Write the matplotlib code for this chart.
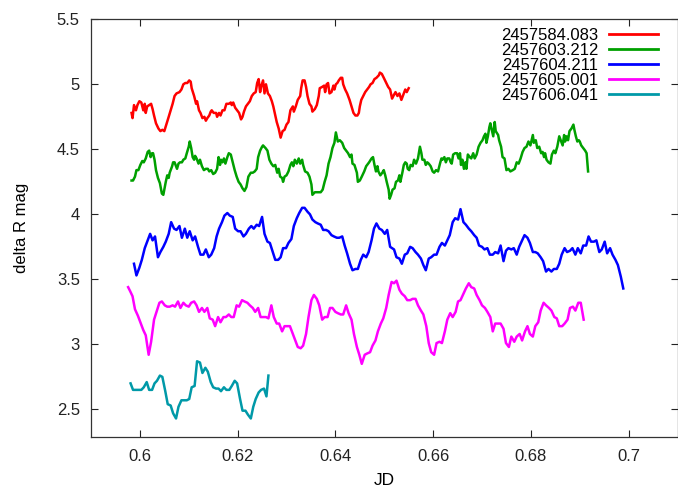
import matplotlib
matplotlib.use("Agg")
import matplotlib.pyplot as plt
from matplotlib.ticker import FormatStrFormatter

plt.rcParams['font.family'] = ['Liberation Sans', 'DejaVu Sans']

## light curves (JD fraction, delta R mag)

labels = ["2457584.083", "2457603.212", "2457604.211", "2457605.001", "2457606.041"]
colors = ["#ff0000", "#00a000", "#0000ff", "#ff00ff", "#0099a8"]

jd_584 = [0.5983, 0.5985, 0.5988, 0.5992, 0.5995, 0.5999, 0.6003, 0.6007, 0.6010, 0.6012,
          0.6015, 0.6019, 0.6023, 0.6026, 0.6029, 0.6033, 0.6038, 0.6042, 0.6046, 0.6050,
          0.6055, 0.6059, 0.6063, 0.6067, 0.6071, 0.6075, 0.6081, 0.6085, 0.6089, 0.6093,
          0.6097, 0.6101, 0.6104, 0.6106, 0.6111, 0.6115, 0.6117, 0.6121, 0.6124, 0.6128,
          0.6132, 0.6135, 0.6138, 0.6142, 0.6145, 0.6147, 0.6151, 0.6156, 0.6158, 0.6162,
          0.6165, 0.6169, 0.6173, 0.6177, 0.6182, 0.6186, 0.6188, 0.6191, 0.6195, 0.6199,
          0.6203, 0.6207, 0.6210, 0.6213, 0.6217, 0.6221, 0.6225, 0.6229, 0.6233, 0.6237,
          0.6240, 0.6243, 0.6246, 0.6248, 0.6252, 0.6255, 0.6258, 0.6262, 0.6266, 0.6270,
          0.6273, 0.6277, 0.6280, 0.6284, 0.6288, 0.6292, 0.6296, 0.6300, 0.6304, 0.6308,
          0.6313, 0.6315, 0.6319, 0.6323, 0.6328, 0.6330, 0.6333, 0.6337, 0.6340, 0.6343,
          0.6347, 0.6351, 0.6353, 0.6358, 0.6362, 0.6366, 0.6368, 0.6373, 0.6377, 0.6379,
          0.6382, 0.6385, 0.6388, 0.6392, 0.6396, 0.6398, 0.6401, 0.6404, 0.6407, 0.6411,
          0.6414, 0.6416, 0.6420, 0.6424, 0.6429, 0.6433, 0.6437, 0.6441, 0.6445, 0.6448,
          0.6450, 0.6453, 0.6457, 0.6461, 0.6465, 0.6469, 0.6472, 0.6476, 0.6480, 0.6484,
          0.6489, 0.6491, 0.6495, 0.6499, 0.6504, 0.6508, 0.6512, 0.6516, 0.6520, 0.6523,
          0.6527, 0.6531, 0.6535, 0.6539, 0.6543, 0.6546, 0.6550]
mag_584 = [4.78, 4.74, 4.84, 4.80, 4.84, 4.87, 4.86, 4.80, 4.85, 4.78,
           4.83, 4.84, 4.85, 4.81, 4.76, 4.70, 4.66, 4.64, 4.65, 4.64,
           4.70, 4.75, 4.80, 4.85, 4.91, 4.93, 4.94, 4.96, 5.00, 5.01,
           5.01, 5.03, 5.02, 4.97, 4.91, 4.85, 4.87, 4.80, 4.78, 4.74,
           4.75, 4.72, 4.74, 4.76, 4.79, 4.80, 4.78, 4.78, 4.75, 4.78,
           4.76, 4.80, 4.80, 4.85, 4.85, 4.86, 4.84, 4.86, 4.82, 4.80,
           4.78, 4.73, 4.75, 4.79, 4.83, 4.85, 4.87, 4.91, 4.93, 4.94,
           5.01, 5.04, 4.94, 4.98, 5.03, 4.93, 5.00, 4.93, 4.91, 4.87,
           4.83, 4.76, 4.71, 4.66, 4.59, 4.64, 4.65, 4.69, 4.71, 4.80,
           4.83, 4.79, 4.83, 4.88, 4.91, 4.97, 5.03, 5.03, 4.98, 4.91,
           4.85, 4.83, 4.79, 4.81, 4.84, 4.91, 4.97, 4.98, 4.99, 4.94,
           5.00, 5.01, 4.93, 4.94, 4.99, 4.96, 5.00, 5.01, 5.03, 5.05,
           5.05, 5.00, 4.96, 4.93, 4.88, 4.83, 4.78, 4.76, 4.76, 4.78,
           4.83, 4.88, 4.91, 4.94, 4.96, 4.98, 5.00, 5.01, 5.04, 5.05,
           5.07, 5.09, 5.08, 5.05, 5.01, 4.98, 4.96, 4.89, 4.92, 4.94,
           4.91, 4.93, 4.88, 4.92, 4.96, 4.94, 4.97]

jd_603 = [0.5983, 0.5986, 0.5990, 0.5993, 0.5997, 0.6001, 0.6005, 0.6008, 0.6012, 0.6016,
          0.6019, 0.6022, 0.6025, 0.6027, 0.6030, 0.6033, 0.6037, 0.6041, 0.6045, 0.6048,
          0.6050, 0.6053, 0.6056, 0.6059, 0.6061, 0.6066, 0.6068, 0.6071, 0.6074, 0.6076,
          0.6079, 0.6082, 0.6086, 0.6089, 0.6093, 0.6096, 0.6100, 0.6102, 0.6105, 0.6108,
          0.6111, 0.6113, 0.6116, 0.6120, 0.6123, 0.6127, 0.6131, 0.6135, 0.6139, 0.6142,
          0.6146, 0.6150, 0.6154, 0.6158, 0.6161, 0.6164, 0.6166, 0.6169, 0.6172, 0.6175,
          0.6179, 0.6182, 0.6186, 0.6190, 0.6194, 0.6198, 0.6202, 0.6206, 0.6210, 0.6214,
          0.6218, 0.6222, 0.6227, 0.6231, 0.6235, 0.6239, 0.6242, 0.6246, 0.6250, 0.6252,
          0.6257, 0.6261, 0.6265, 0.6269, 0.6273, 0.6277, 0.6281, 0.6284, 0.6287, 0.6291,
          0.6293, 0.6296, 0.6300, 0.6304, 0.6308, 0.6311, 0.6314, 0.6317, 0.6321, 0.6325,
          0.6328, 0.6332, 0.6334, 0.6338, 0.6343, 0.6347, 0.6351, 0.6353, 0.6358, 0.6362,
          0.6366, 0.6370, 0.6374, 0.6378, 0.6382, 0.6386, 0.6390, 0.6394, 0.6398, 0.6401,
          0.6405, 0.6409, 0.6414, 0.6418, 0.6422, 0.6426, 0.6430, 0.6433, 0.6435, 0.6439,
          0.6444, 0.6446, 0.6450, 0.6454, 0.6459, 0.6463, 0.6467, 0.6469,
          0.6474, 0.6477, 0.6480, 0.6483, 0.6486, 0.6488, 0.6492, 0.6496, 0.6499, 0.6502,
          0.6505, 0.6509, 0.6511, 0.6514, 0.6517, 0.6521, 0.6524, 0.6528, 0.6531, 0.6533,
          0.6537, 0.6540, 0.6543, 0.6546, 0.6548, 0.6551, 0.6554, 0.6558, 0.6561, 0.6565,
          0.6569, 0.6573, 0.6576, 0.6578, 0.6582, 0.6585, 0.6588, 0.6591, 0.6595, 0.6599,
          0.6602, 0.6606, 0.6610, 0.6614, 0.6617, 0.6619, 0.6623, 0.6626, 0.6629, 0.6633,
          0.6636, 0.6638, 0.6641, 0.6645, 0.6649, 0.6652, 0.6655, 0.6657, 0.6660, 0.6663,
          0.6666, 0.6668, 0.6671, 0.6675, 0.6678, 0.6682, 0.6685, 0.6689, 0.6693, 0.6697,
          0.6701, 0.6704, 0.6707, 0.6709, 0.6712, 0.6715, 0.6717, 0.6720, 0.6723, 0.6726,
          0.6728, 0.6733, 0.6735, 0.6739, 0.6742, 0.6746, 0.6750, 0.6754, 0.6758, 0.6763,
          0.6767, 0.6771, 0.6775, 0.6779, 0.6783, 0.6787, 0.6791, 0.6795, 0.6799, 0.6804,
          0.6806, 0.6810, 0.6813, 0.6817, 0.6821, 0.6824, 0.6827, 0.6829, 0.6832, 0.6836,
          0.6840, 0.6843, 0.6847, 0.6850, 0.6854, 0.6858, 0.6862, 0.6865, 0.6868, 0.6870,
          0.6873, 0.6876, 0.6879, 0.6883, 0.6887, 0.6889, 0.6892, 0.6895, 0.6898, 0.6900,
          0.6903, 0.6907, 0.6911, 0.6914, 0.6917]
mag_603 = [4.26, 4.26, 4.29, 4.34, 4.34, 4.38, 4.41, 4.40, 4.43, 4.48,
           4.49, 4.44, 4.47, 4.47, 4.42, 4.34, 4.28, 4.24, 4.16, 4.15,
           4.19, 4.25, 4.30, 4.28, 4.32, 4.37, 4.40, 4.40, 4.37, 4.35,
           4.39, 4.40, 4.40, 4.42, 4.43, 4.47, 4.52, 4.56, 4.51, 4.44,
           4.42, 4.45, 4.43, 4.39, 4.42, 4.37, 4.34, 4.35, 4.35, 4.33,
           4.34, 4.31, 4.32, 4.35, 4.44, 4.38, 4.42, 4.40, 4.43, 4.39,
           4.44, 4.47, 4.46, 4.40, 4.34, 4.29, 4.25, 4.23, 4.20, 4.18,
           4.21, 4.29, 4.32, 4.32, 4.33, 4.35, 4.44, 4.49, 4.52, 4.53,
           4.51, 4.49, 4.42, 4.39, 4.37, 4.38, 4.32, 4.35, 4.29, 4.28,
           4.25, 4.29, 4.30, 4.33, 4.38, 4.40, 4.37, 4.42, 4.39, 4.43,
           4.39, 4.42, 4.38, 4.33, 4.32, 4.29, 4.23, 4.15, 4.17, 4.17,
           4.17, 4.17, 4.19, 4.25, 4.30, 4.39, 4.44, 4.51, 4.55, 4.63,
           4.56, 4.57, 4.55, 4.51, 4.49, 4.47, 4.44, 4.46, 4.39, 4.38,
           4.32, 4.25, 4.26, 4.29, 4.33, 4.37, 4.39, 4.40,
           4.43, 4.44, 4.38, 4.33, 4.37, 4.33, 4.30, 4.32, 4.34, 4.30,
           4.25, 4.19, 4.12, 4.15, 4.19, 4.20, 4.25, 4.26, 4.30, 4.25,
           4.32, 4.38, 4.40, 4.39, 4.35, 4.34, 4.38, 4.37, 4.42, 4.39,
           4.43, 4.52, 4.47, 4.42, 4.42, 4.38, 4.40, 4.39, 4.37, 4.33,
           4.32, 4.34, 4.33, 4.39, 4.43, 4.42, 4.44, 4.40, 4.43, 4.43,
           4.40, 4.39, 4.46, 4.47, 4.47, 4.43, 4.47, 4.38, 4.42, 4.35,
           4.40, 4.35, 4.46, 4.44, 4.43, 4.47, 4.43, 4.46, 4.52, 4.55,
           4.57, 4.60, 4.62, 4.55, 4.60, 4.67, 4.70, 4.65, 4.60, 4.71,
           4.64, 4.61, 4.57, 4.52, 4.44, 4.43, 4.34, 4.35, 4.33, 4.34,
           4.35, 4.40, 4.39, 4.43, 4.48, 4.51, 4.52, 4.56, 4.53, 4.61,
           4.55, 4.57, 4.51, 4.52, 4.47, 4.48, 4.44, 4.47, 4.42, 4.40,
           4.39, 4.46, 4.49, 4.47, 4.52, 4.60, 4.56, 4.53, 4.61, 4.56,
           4.60, 4.57, 4.64, 4.66, 4.69, 4.65, 4.60, 4.56, 4.57, 4.56,
           4.53, 4.51, 4.49, 4.47, 4.33]

jd_604 = [0.5988, 0.5993, 0.5999, 0.6004, 0.6010, 0.6015, 0.6021, 0.6026, 0.6031, 0.6037,
          0.6042, 0.6048, 0.6053, 0.6059, 0.6064, 0.6070, 0.6075, 0.6081, 0.6086, 0.6092,
          0.6097, 0.6102, 0.6108, 0.6113, 0.6119, 0.6124, 0.6130, 0.6135, 0.6141, 0.6146,
          0.6152, 0.6157, 0.6162, 0.6168, 0.6173, 0.6179, 0.6184, 0.6190, 0.6195, 0.6201,
          0.6206, 0.6212, 0.6217, 0.6223, 0.6228, 0.6233, 0.6239, 0.6244, 0.6250, 0.6255,
          0.6261, 0.6266, 0.6272, 0.6277, 0.6283, 0.6288, 0.6293, 0.6299, 0.6304, 0.6310,
          0.6315, 0.6321, 0.6326, 0.6332, 0.6337, 0.6343, 0.6348, 0.6353, 0.6359, 0.6364,
          0.6370, 0.6375, 0.6381, 0.6386, 0.6392, 0.6397, 0.6403, 0.6408, 0.6414, 0.6419,
          0.6424, 0.6430, 0.6435, 0.6441, 0.6446, 0.6452, 0.6457, 0.6463, 0.6468, 0.6474,
          0.6479, 0.6484, 0.6490, 0.6495, 0.6501, 0.6506, 0.6512,
          0.6520, 0.6525, 0.6531, 0.6536, 0.6542, 0.6547, 0.6553, 0.6558, 0.6564, 0.6569,
          0.6575, 0.6580, 0.6585, 0.6591, 0.6596, 0.6602, 0.6607, 0.6613, 0.6618, 0.6624,
          0.6629, 0.6634, 0.6640, 0.6645, 0.6651, 0.6656, 0.6662, 0.6667, 0.6673, 0.6678,
          0.6684, 0.6689, 0.6694, 0.6700, 0.6705, 0.6711, 0.6716, 0.6722, 0.6727, 0.6733,
          0.6738, 0.6744, 0.6749, 0.6754, 0.6760, 0.6765, 0.6771, 0.6776, 0.6782, 0.6787,
          0.6793, 0.6798, 0.6804, 0.6809, 0.6814, 0.6820, 0.6825, 0.6831, 0.6836, 0.6842,
          0.6847, 0.6853, 0.6858, 0.6863, 0.6869, 0.6874, 0.6880, 0.6885, 0.6891, 0.6896,
          0.6902, 0.6907, 0.6913, 0.6918, 0.6923, 0.6929, 0.6934, 0.6940, 0.6945, 0.6951,
          0.6956, 0.6962, 0.6967, 0.6973, 0.6978, 0.6984, 0.6989]
mag_604 = [3.62, 3.53, 3.59, 3.65, 3.74, 3.79, 3.85, 3.80, 3.83, 3.67,
           3.71, 3.75, 3.79, 3.85, 3.94, 3.89, 3.88, 3.91, 3.82, 3.89,
           3.82, 3.87, 3.80, 3.83, 3.75, 3.69, 3.69, 3.73, 3.67, 3.69,
           3.74, 3.83, 3.89, 3.94, 3.99, 4.01, 3.99, 3.98, 3.89, 3.87,
           3.87, 3.83, 3.85, 3.89, 3.91, 3.89, 3.92, 3.91, 3.98, 3.85,
           3.79, 3.78, 3.71, 3.65, 3.65, 3.67, 3.74, 3.74, 3.78, 3.81,
           3.91, 3.97, 4.01, 4.05, 4.05, 4.02, 4.00, 3.96, 3.94, 3.93,
           3.92, 3.88, 3.88, 3.87, 3.84, 3.83, 3.82, 3.82, 3.83, 3.76,
           3.70, 3.62, 3.57, 3.58, 3.58, 3.65, 3.69, 3.67, 3.71, 3.80,
           3.89, 3.93, 3.89, 3.88, 3.85, 3.88, 3.75,
           3.73, 3.67, 3.66, 3.62, 3.69, 3.70, 3.75, 3.74, 3.71, 3.69,
           3.66, 3.61, 3.57, 3.66, 3.67, 3.69, 3.69, 3.75, 3.78, 3.76,
           3.80, 3.84, 3.94, 3.97, 3.96, 4.04, 3.94, 3.92, 3.89, 3.87,
           3.84, 3.82, 3.76, 3.75, 3.73, 3.74, 3.69, 3.69, 3.71, 3.70,
           3.76, 3.64, 3.72, 3.74, 3.73, 3.74, 3.69, 3.75, 3.80, 3.84,
           3.82, 3.78, 3.71, 3.71, 3.70, 3.67, 3.64, 3.56, 3.58, 3.56,
           3.58, 3.58, 3.62, 3.69, 3.74, 3.71, 3.72, 3.74, 3.69, 3.74,
           3.70, 3.76, 3.76, 3.83, 3.79, 3.79, 3.80, 3.71, 3.73, 3.79,
           3.70, 3.74, 3.69, 3.65, 3.61, 3.52, 3.43]

jd_605 = [0.5976,
          0.5980, 0.5985, 0.5990, 0.5996, 0.6001, 0.6007, 0.6012, 0.6018, 0.6023, 0.6029,
          0.6034, 0.6040, 0.6045, 0.6051, 0.6056, 0.6061, 0.6067, 0.6072, 0.6078, 0.6083,
          0.6089, 0.6094, 0.6100, 0.6105, 0.6111, 0.6116, 0.6121, 0.6127, 0.6132, 0.6138,
          0.6143, 0.6149, 0.6154, 0.6160, 0.6165, 0.6171, 0.6176, 0.6182, 0.6187, 0.6192,
          0.6198, 0.6203, 0.6209, 0.6214, 0.6220, 0.6225, 0.6231, 0.6236, 0.6242, 0.6247,
          0.6253, 0.6258, 0.6263, 0.6269, 0.6274, 0.6280, 0.6285, 0.6291, 0.6296, 0.6302,
          0.6307, 0.6313, 0.6318, 0.6323, 0.6329, 0.6334, 0.6340, 0.6345, 0.6351, 0.6356,
          0.6362, 0.6367, 0.6373, 0.6378, 0.6384, 0.6389, 0.6394, 0.6400, 0.6405, 0.6411,
          0.6416, 0.6422, 0.6427, 0.6433, 0.6438, 0.6444, 0.6449, 0.6454, 0.6460, 0.6465,
          0.6471, 0.6476, 0.6482, 0.6487, 0.6493, 0.6498, 0.6504, 0.6509,
          0.6515, 0.6520, 0.6525, 0.6531, 0.6536, 0.6542, 0.6547, 0.6553, 0.6558, 0.6564,
          0.6569, 0.6575, 0.6580, 0.6586, 0.6591, 0.6596, 0.6602, 0.6607, 0.6613, 0.6618,
          0.6624, 0.6629, 0.6635, 0.6640, 0.6646, 0.6651, 0.6656, 0.6662, 0.6667, 0.6673,
          0.6678, 0.6684, 0.6689, 0.6695, 0.6700, 0.6706, 0.6711, 0.6717, 0.6722, 0.6727,
          0.6733, 0.6738, 0.6744, 0.6749, 0.6755, 0.6760, 0.6766, 0.6771, 0.6777, 0.6782,
          0.6788, 0.6793, 0.6798, 0.6804, 0.6809, 0.6815, 0.6820, 0.6826, 0.6831, 0.6837,
          0.6842, 0.6848, 0.6853, 0.6858, 0.6864, 0.6869, 0.6875, 0.6880, 0.6886, 0.6891,
          0.6897, 0.6902, 0.6908]
mag_605 = [3.44,
           3.41, 3.37, 3.27, 3.22, 3.17, 3.11, 3.07, 2.92, 3.02, 3.19,
           3.25, 3.32, 3.33, 3.30, 3.29, 3.29, 3.30, 3.29, 3.33, 3.28,
           3.32, 3.30, 3.29, 3.32, 3.33, 3.30, 3.25, 3.28, 3.25, 3.28,
           3.20, 3.19, 3.14, 3.21, 3.17, 3.21, 3.21, 3.23, 3.21, 3.21,
           3.30, 3.29, 3.34, 3.33, 3.32, 3.30, 3.28, 3.25, 3.28, 3.21,
           3.21, 3.21, 3.20, 3.30, 3.21, 3.16, 3.16, 3.10, 3.14, 3.14,
           3.14, 3.08, 3.03, 2.98, 2.97, 2.99, 3.08, 3.21, 3.34, 3.38,
           3.35, 3.30, 3.19, 3.21, 3.21, 3.28, 3.28, 3.25, 3.24, 3.23,
           3.23, 3.30, 3.24, 3.19, 3.08, 2.98, 2.92, 2.85, 2.92, 2.93,
           2.94, 2.99, 3.03, 3.10, 3.16, 3.20, 3.28, 3.38,
           3.48, 3.47, 3.49, 3.42, 3.39, 3.37, 3.34, 3.34, 3.35, 3.35,
           3.30, 3.26, 3.23, 3.14, 3.01, 2.94, 2.92, 3.01, 3.02, 3.01,
           3.10, 3.19, 3.24, 3.21, 3.25, 3.33, 3.34, 3.39, 3.43, 3.47,
           3.44, 3.43, 3.38, 3.34, 3.30, 3.28, 3.25, 3.21, 3.10, 3.16,
           3.16, 3.16, 3.12, 3.01, 2.98, 3.06, 3.02, 3.06, 3.08, 3.03,
           3.10, 3.14, 3.08, 3.06, 3.14, 3.17, 3.26, 3.32, 3.30, 3.28,
           3.26, 3.21, 3.20, 3.14, 3.14, 3.16, 3.19, 3.28, 3.29, 3.26,
           3.32, 3.32, 3.19]

jd_606 = [0.5981, 0.5986, 0.5992, 0.5997, 0.6003, 0.6008, 0.6014, 0.6019, 0.6025, 0.6030,
          0.6035, 0.6041, 0.6046, 0.6052, 0.6057, 0.6063, 0.6068, 0.6074, 0.6079, 0.6085,
          0.6090, 0.6096, 0.6101, 0.6106, 0.6112, 0.6117, 0.6123, 0.6128, 0.6134, 0.6139,
          0.6145, 0.6150, 0.6156, 0.6161, 0.6166, 0.6172, 0.6177, 0.6183, 0.6188, 0.6194,
          0.6199, 0.6205, 0.6210, 0.6216, 0.6221, 0.6227, 0.6232, 0.6237, 0.6243, 0.6248,
          0.6254, 0.6259, 0.6263]
mag_606 = [2.70, 2.65, 2.65, 2.65, 2.65, 2.67, 2.71, 2.65, 2.65, 2.70,
           2.72, 2.76, 2.75, 2.64, 2.54, 2.53, 2.47, 2.43, 2.52, 2.57,
           2.57, 2.57, 2.58, 2.67, 2.68, 2.87, 2.86, 2.78, 2.82, 2.79,
           2.71, 2.67, 2.66, 2.66, 2.64, 2.67, 2.65, 2.65, 2.68, 2.72,
           2.70, 2.58, 2.49, 2.49, 2.46, 2.43, 2.52, 2.58, 2.63, 2.65,
           2.66, 2.60, 2.76]

xticks = [0.6, 0.62, 0.64, 0.66, 0.68, 0.7]
yticks = [2.5, 3, 3.5, 4, 4.5, 5, 5.5]

fig = plt.figure(figsize=(6.78, 4.87), dpi=100)
ax = fig.add_axes([0.1342, 0.1033, 0.8651, 0.8571])

series = [(jd_584, mag_584), (jd_603, mag_603), (jd_604, mag_604),
          (jd_605, mag_605), (jd_606, mag_606)]
for (jd, mag), lab, col in zip(series, labels, colors):
    ax.plot(jd, mag, color=col, lw=1.8, label=lab)

ax.set_xlim(0.59, 0.71)
ax.set_ylim(2.29, 5.5)
ax.set_xticks(xticks)
ax.set_yticks(yticks)
ax.xaxis.set_major_formatter(FormatStrFormatter('%g'))
ax.yaxis.set_major_formatter(FormatStrFormatter('%g'))
ax.tick_params(direction='in', top=True, right=True, length=5, width=0.8,
               labelsize=12, colors='#222222')
ax.tick_params(axis='y', pad=8)
ax.tick_params(axis='x', pad=9)
for sp in ax.spines.values():
    sp.set_linewidth(0.9)
    sp.set_color('#333333')

ax.set_xlabel('JD', fontsize=12.5, labelpad=6)
ax.set_ylabel('delta R mag', fontsize=12, labelpad=20)

leg = ax.legend(loc='upper right', bbox_to_anchor=(0.967, 0.979), frameon=False,
                markerfirst=False, fontsize=12, handlelength=2.95,
                handletextpad=0.66, labelspacing=0.0, borderpad=0,
                borderaxespad=0)
for line in leg.get_lines():
    line.set_linewidth(2)

fig.savefig('out.png', dpi=100)
